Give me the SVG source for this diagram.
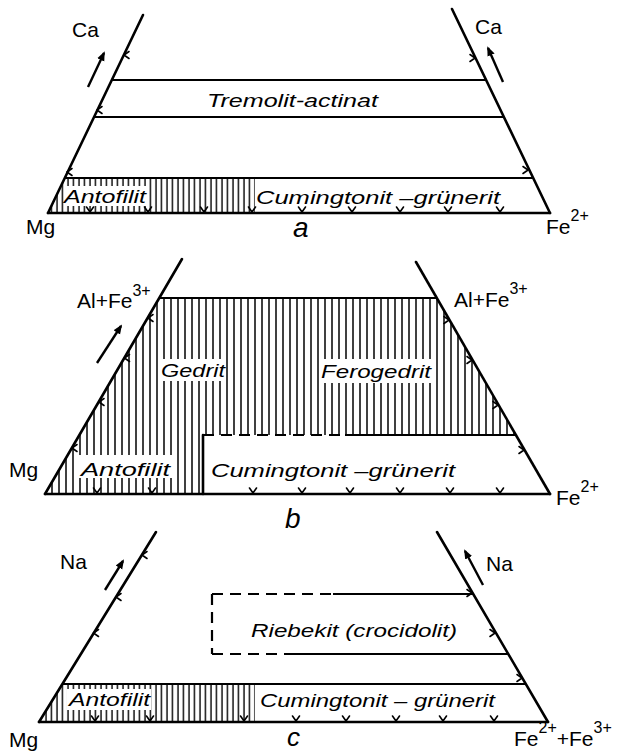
<svg xmlns="http://www.w3.org/2000/svg" xmlns:xlink="http://www.w3.org/1999/xlink" width="627" height="755" viewBox="0 0 627 755">
<style>
.edge{stroke:#000;stroke-width:2.6;fill:none;stroke-linecap:round}
.h{stroke:#000;stroke-width:2;fill:none}
.dash{stroke:#000;stroke-width:2.2;fill:none;stroke-dasharray:11,7}
.tick{stroke:#000;stroke-width:1.6;fill:none;stroke-linecap:round;stroke-linejoin:round}
.arr{stroke:#000;stroke-width:2.4;fill:none;marker-end:url(#ah)}
.lbl{font-family:"Liberation Sans","DejaVu Sans",sans-serif;font-size:21px;fill:#000}
.sup{font-size:16px}
.min{font-family:"Liberation Sans","DejaVu Sans",sans-serif;font-style:italic;font-size:19px;fill:#000}
.pan{font-family:"Liberation Sans","DejaVu Sans",sans-serif;font-style:italic;font-size:28px;fill:#000}
.bg{fill:#fff}
</style>
<defs>
<pattern id="hatch5" patternUnits="userSpaceOnUse" width="5.5" height="10"><line x1="2" y1="0" x2="2" y2="10" stroke="#000" stroke-width="1.4"/></pattern>
<pattern id="hatch7" patternUnits="userSpaceOnUse" width="7" height="10"><line x1="3" y1="0" x2="3" y2="10" stroke="#000" stroke-width="1.5"/></pattern>
<marker id="ah" viewBox="0 0 10 10" refX="8" refY="5" markerWidth="4" markerHeight="4" orient="auto" markerUnits="strokeWidth"><path d="M0,1 L10,5 L0,9 z" fill="#000"/></marker>
<path id="tl" class="tick" d="M5,-3.5 L0,0 L5,3.5"/>
<path id="tr" class="tick" d="M-5,-3.5 L0,0 L-5,3.5"/>
<path id="tb" class="tick" d="M-3.5,-5 L0,0 L3.5,-5"/>
</defs>
<rect width="627" height="755" fill="#fff"/>

<!-- Panel a -->
<g id="panel-a">
  <g id="a-regions">
    <polygon points="65,178 255,178 255,213 48,213" fill="url(#hatch5)"/>
    <rect class="bg" x="64" y="186" width="82" height="20"/>
  </g>
  <g id="a-lines">
    <line class="edge" x1="143" y1="15" x2="48" y2="213"/>
    <line class="edge" x1="452" y1="9" x2="550" y2="213"/>
    <line class="edge" x1="48" y1="213" x2="550" y2="213"/>
    <line class="h" x1="112" y1="80" x2="486" y2="80"/>
    <line class="h" x1="95" y1="117" x2="504" y2="117"/>
    <line class="h" x1="65" y1="178" x2="533" y2="178"/>
  </g>
  <g id="a-ticks">
    <use xlink:href="#tl" x="124" y="55"/>
    <use xlink:href="#tl" x="97" y="110"/>
    <use xlink:href="#tl" x="67" y="172"/>
    <use xlink:href="#tr" x="475" y="58"/>
    <use xlink:href="#tr" x="528" y="170"/>
    <use xlink:href="#tb" x="90" y="212"/>
    <use xlink:href="#tb" x="148" y="212"/>
    <use xlink:href="#tb" x="204" y="212"/>
    <use xlink:href="#tb" x="252" y="212"/>
    <use xlink:href="#tb" x="302" y="212"/>
    <use xlink:href="#tb" x="352" y="212"/>
    <use xlink:href="#tb" x="400" y="212"/>
    <use xlink:href="#tb" x="448" y="212"/>
    <use xlink:href="#tb" x="500" y="212"/>
  </g>
  <g id="a-arrows">
    <line class="arr" x1="88" y1="87" x2="104" y2="53"/>
    <line class="arr" x1="503" y1="82" x2="488" y2="48"/>
  </g>
  <g id="a-labels">
    <text class="lbl" x="72" y="37">Ca</text>
    <text class="lbl" x="475" y="34">Ca</text>
    <text class="min" x="207" y="107" textLength="171" lengthAdjust="spacingAndGlyphs">Tremolit-actinat</text>
    <text class="min" x="64" y="203" textLength="82" lengthAdjust="spacingAndGlyphs">Antofilit</text>
    <text class="min" x="256" y="204" textLength="244" lengthAdjust="spacingAndGlyphs">Cumingtonit –grünerit</text>
    <text class="lbl" x="26" y="234">Mg</text>
    <text class="pan" x="293" y="237">a</text>
    <text class="lbl" x="546" y="234">Fe<tspan class="sup" dy="-13">2+</tspan></text>
  </g>
</g>

<!-- Panel b -->
<g id="panel-b">
  <g id="b-regions">
    <polygon points="159.4,298 437,298 516.4,435 203,435 203,494 45.6,494" fill="url(#hatch7)"/>
    <rect class="bg" x="159" y="359" width="67" height="22"/>
    <rect class="bg" x="319" y="359" width="114" height="24"/>
    <rect class="bg" x="79" y="455" width="93" height="23"/>
  </g>
  <g id="b-lines">
    <line class="edge" x1="182" y1="259" x2="45" y2="494"/>
    <line class="edge" x1="416" y1="262" x2="550" y2="494"/>
    <line class="edge" x1="45" y1="494" x2="550" y2="494"/>
    <line class="h" x1="159.4" y1="298" x2="437" y2="298"/>
    <line class="dash" x1="203" y1="435" x2="345" y2="435"/>
    <line class="h" x1="345" y1="435" x2="516.4" y2="435"/>
    <line class="edge" x1="203" y1="435" x2="203" y2="494"/>
  </g>
  <g id="b-ticks">
    <use xlink:href="#tl" x="148" y="318"/>
    <use xlink:href="#tl" x="124.5" y="358"/>
    <use xlink:href="#tl" x="99" y="402"/>
    <use xlink:href="#tl" x="72" y="448"/>
    <use xlink:href="#tr" x="449" y="320"/>
    <use xlink:href="#tr" x="472" y="360"/>
    <use xlink:href="#tr" x="498" y="405"/>
    <use xlink:href="#tr" x="524" y="450"/>
    <use xlink:href="#tb" x="97" y="493"/>
    <use xlink:href="#tb" x="152" y="493"/>
    <use xlink:href="#tb" x="253" y="493"/>
    <use xlink:href="#tb" x="302" y="493"/>
    <use xlink:href="#tb" x="350" y="493"/>
    <use xlink:href="#tb" x="400" y="493"/>
    <use xlink:href="#tb" x="450" y="493"/>
    <use xlink:href="#tb" x="500" y="493"/>
  </g>
  <g id="b-arrows">
    <line class="arr" x1="97" y1="363" x2="121" y2="326"/>
  </g>
  <g id="b-labels">
    <text class="lbl" x="77" y="308">Al+Fe<tspan class="sup" dy="-12">3+</tspan></text>
    <text class="lbl" x="454" y="307">Al+Fe<tspan class="sup" dy="-13">3+</tspan></text>
    <text class="min" x="161" y="377" textLength="64" lengthAdjust="spacingAndGlyphs">Gedrit</text>
    <text class="min" x="321" y="378" textLength="110" lengthAdjust="spacingAndGlyphs">Ferogedrit</text>
    <text class="min" x="81" y="476" textLength="89" lengthAdjust="spacingAndGlyphs">Antofilit</text>
    <text class="min" x="211" y="477" textLength="244" lengthAdjust="spacingAndGlyphs">Cumingtonit  –grünerit</text>
    <text class="lbl" x="9" y="477">Mg</text>
    <text class="pan" x="285" y="528">b</text>
    <text class="lbl" x="556" y="505">Fe<tspan class="sup" dy="-13">2+</tspan></text>
  </g>
</g>

<!-- Panel c -->
<g id="panel-c">
  <g id="c-regions">
    <polygon points="62,684 255,684 255,722 39,722" fill="url(#hatch5)"/>
    <rect class="bg" x="67" y="689" width="84" height="21"/>
  </g>
  <g id="c-lines">
    <line class="edge" x1="156" y1="532" x2="39" y2="722"/>
    <line class="edge" x1="437" y1="532" x2="548" y2="722"/>
    <line class="edge" x1="39" y1="722" x2="548" y2="722"/>
    <line class="dash" x1="212" y1="594" x2="333" y2="594"/>
    <line class="h" x1="333" y1="594" x2="473" y2="594"/>
    <line class="dash" x1="212" y1="594" x2="212" y2="654" stroke-dasharray="10,6"/>
    <line class="dash" x1="212" y1="654" x2="292" y2="654"/>
    <line class="h" x1="292" y1="654" x2="508" y2="654"/>
    <line class="h" x1="62" y1="684" x2="526" y2="684"/>
  </g>
  <g id="c-ticks">
    <use xlink:href="#tl" x="142" y="555"/>
    <use xlink:href="#tl" x="116" y="597"/>
    <use xlink:href="#tl" x="93.5" y="633"/>
    <use xlink:href="#tr" x="472" y="593"/>
    <use xlink:href="#tr" x="495" y="633"/>
    <use xlink:href="#tr" x="522" y="678"/>
    <use xlink:href="#tb" x="95" y="721"/>
    <use xlink:href="#tb" x="150" y="721"/>
    <use xlink:href="#tb" x="244" y="721"/>
    <use xlink:href="#tb" x="296" y="721"/>
    <use xlink:href="#tb" x="346" y="721"/>
    <use xlink:href="#tb" x="396" y="721"/>
    <use xlink:href="#tb" x="443" y="721"/>
    <use xlink:href="#tb" x="494" y="721"/>
  </g>
  <g id="c-arrows">
    <line class="arr" x1="105" y1="590" x2="123" y2="561"/>
    <line class="arr" x1="483" y1="585" x2="465" y2="551"/>
  </g>
  <g id="c-labels">
    <text class="lbl" x="60" y="569">Na</text>
    <text class="lbl" x="486" y="571">Na</text>
    <text class="min" x="251" y="637" textLength="206" lengthAdjust="spacingAndGlyphs">Riebekit (crocidolit)</text>
    <text class="min" x="69" y="706" textLength="81" lengthAdjust="spacingAndGlyphs">Antofilit</text>
    <text class="min" x="260" y="707" textLength="235" lengthAdjust="spacingAndGlyphs">Cumingtonit – grünerit</text>
    <text class="lbl" x="9" y="747">Mg</text>
    <text class="pan" x="287" y="746" style="font-size:26px">c</text>
    <text class="lbl" x="514" y="746">Fe<tspan class="sup" dy="-13">2+</tspan><tspan dy="13">+Fe</tspan><tspan class="sup" dy="-13">3+</tspan></text>
  </g>
</g>
</svg>
